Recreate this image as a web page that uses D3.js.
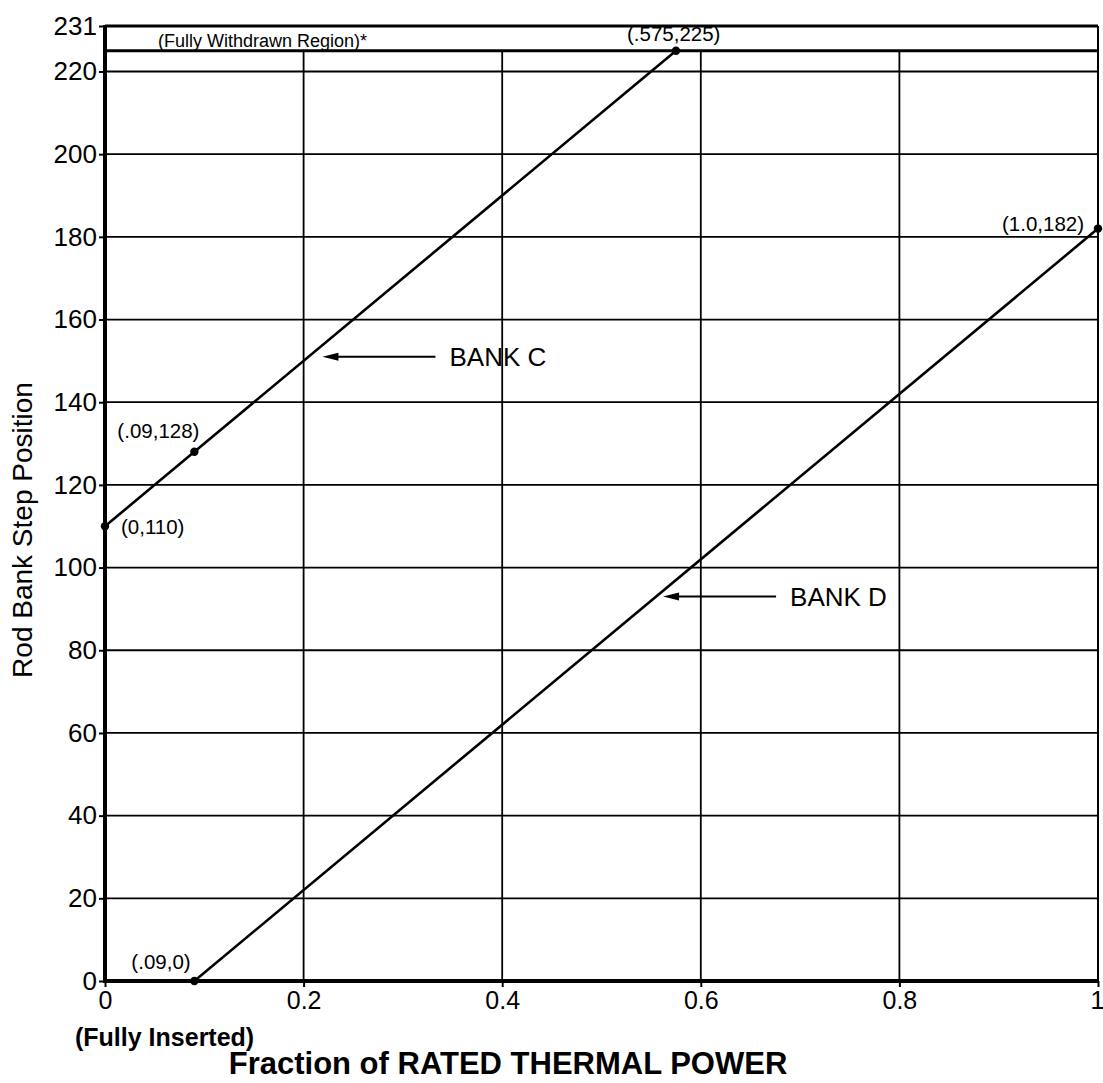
<!DOCTYPE html>
<html><head><meta charset="utf-8">
<script src="https://cdn.jsdelivr.net/npm/d3@7"></script>
<style>
html,body{margin:0;padding:0;background:#fff;}
svg{display:block;font-family:"Liberation Sans",Arial,sans-serif;}
</style></head>
<body>
<svg id="c" width="1103" height="1083"></svg>
<script>
const xTicks = [0, 0.2, 0.4, 0.6, 0.8, 1];
const xTickLabels = ["0", "0.2", "0.4", "0.6", "0.8", "1"];
const yTicks = [0, 20, 40, 60, 80, 100, 120, 140, 160, 180, 200, 220, 231];
const withdrawnLevel = 225;
const bankC = [[0, 110], [0.09, 128], [0.575, 225]];
const bankD = [[0.09, 0], [1.0, 182]];
const pointLabels = [
  {p: [0, 110], text: "(0,110)"},
  {p: [0.09, 128], text: "(.09,128)"},
  {p: [0.575, 225], text: "(.575,225)"},
  {p: [0.09, 0], text: "(.09,0)"},
  {p: [1.0, 182], text: "(1.0,182)"}
];
const bankLabels = [
  {name: "BANK C", value: 151, tipX: 0.219},
  {name: "BANK D", value: 93, tipX: 0.562}
];

const svg = d3.select("#c");
const x = d3.scaleLinear().domain([0, 1]).range([105, 1098]);
const y = d3.scaleLinear().domain([0, 231]).range([981, 26]);

// horizontal grid
svg.append("g").selectAll("line").data(yTicks.filter(v => v > 0 && v < 231)).join("line")
  .attr("x1", x(0)).attr("x2", x(1))
  .attr("y1", d => y(d)).attr("y2", d => y(d))
  .attr("stroke", "#000").attr("stroke-width", 1.8);
// vertical grid (from withdrawn line down)
svg.append("g").selectAll("line").data(xTicks.filter(v => v > 0 && v < 1)).join("line")
  .attr("x1", d => x(d)).attr("x2", d => x(d))
  .attr("y1", y(withdrawnLevel)).attr("y2", y(0))
  .attr("stroke", "#000").attr("stroke-width", 1.8);

// withdrawn line & top border
svg.append("line").attr("x1", x(0)).attr("x2", x(1)).attr("y1", y(withdrawnLevel)).attr("y2", y(withdrawnLevel))
  .attr("stroke", "#000").attr("stroke-width", 3);
svg.append("line").attr("x1", x(0)).attr("x2", x(1)).attr("y1", y(231)).attr("y2", y(231))
  .attr("stroke", "#000").attr("stroke-width", 3);
// right border
svg.append("line").attr("x1", x(1)).attr("x2", x(1)).attr("y1", y(231)).attr("y2", y(0))
  .attr("stroke", "#000").attr("stroke-width", 2);

// axes
const yAxis = d3.axisLeft(y).tickValues(yTicks).tickSize(6).tickPadding(2).tickFormat(d3.format("d"));
const ya = svg.append("g").attr("transform", `translate(${x(0)},0)`).call(yAxis);
ya.select(".domain").remove();
ya.selectAll(".tick line").attr("stroke-width", 2);
ya.selectAll(".tick text").attr("font-size", 26).attr("font-family", "Liberation Sans, Arial, sans-serif").attr("fill", "#000");

const xAxis = d3.axisBottom(x).tickValues(xTicks).tickSize(6).tickPadding(4).tickFormat((d, i) => xTickLabels[i]);
const xa = svg.append("g").attr("transform", `translate(0,${y(0)})`).call(xAxis);
xa.select(".domain").remove();
xa.selectAll(".tick line").attr("stroke-width", 2);
xa.selectAll(".tick text").attr("font-size", 25).attr("font-family", "Liberation Sans, Arial, sans-serif").attr("fill", "#000");
xa.selectAll(".tick text").filter(d => d === 1).attr("text-anchor", "end").attr("dx", 6);

svg.append("line").attr("x1", x(0)).attr("x2", x(0)).attr("y1", y(231) - 1).attr("y2", y(0) + 2)
  .attr("stroke", "#000").attr("stroke-width", 4);
svg.append("line").attr("x1", x(0) - 2).attr("x2", x(1) + 1).attr("y1", y(0)).attr("y2", y(0))
  .attr("stroke", "#000").attr("stroke-width", 4);

// bank lines
const line = d3.line().x(d => x(d[0])).y(d => y(d[1]));
[bankC, bankD].forEach(s => {
  svg.append("path").attr("d", line(s)).attr("fill", "none").attr("stroke", "#000").attr("stroke-width", 2.6);
});
const pts = pointLabels.map(d => d.p);
svg.append("g").selectAll("circle").data(pts).join("circle")
  .attr("cx", d => x(d[0])).attr("cy", d => y(d[1])).attr("r", 4.2).attr("fill", "#000");

// point labels
const lbl = svg.append("g").attr("font-size", 20.5).attr("fill", "#000");
const offs = {
  "(0,110)": {dx: 16, dy: 8},
  "(.09,128)": {dx: -77, dy: -14},
  "(.575,225)": {dx: -49, dy: -10},
  "(.09,0)": {dx: -63, dy: -12},
  "(1.0,182)": {dx: -96, dy: 2}
};
pointLabels.forEach(d => {
  const o = offs[d.text];
  lbl.append("text").attr("x", x(d.p[0]) + o.dx).attr("y", y(d.p[1]) + o.dy).text(d.text);
});

svg.append("text").attr("x", 158).attr("y", 47).attr("font-size", 18).text("(Fully Withdrawn Region)*");

// bank labels with arrows
bankLabels.forEach(b => {
  const yy = y(b.value);
  const tip = x(b.tipX);
  const tail = tip + 113;
  svg.append("line").attr("x1", tip + 12).attr("x2", tail).attr("y1", yy).attr("y2", yy)
    .attr("stroke", "#000").attr("stroke-width", 2);
  svg.append("path").attr("d", `M${tip},${yy} L${tip + 16},${yy - 4} L${tip + 16},${yy + 4} Z`).attr("fill", "#000");
  svg.append("text").attr("x", tail + 14).attr("y", yy + 9).attr("font-size", 26).text(b.name);
});

// axis titles
svg.append("text").attr("x", 75).attr("y", 1046).attr("font-size", 25).attr("font-weight", "bold").text("(Fully Inserted)");
svg.append("text").attr("x", 508).attr("y", 1074).attr("font-size", 31).attr("font-weight", "bold")
  .attr("text-anchor", "middle").text("Fraction of RATED THERMAL POWER");
svg.append("text").attr("transform", "translate(32,530) rotate(-90)").attr("font-size", 28)
  .attr("text-anchor", "middle").text("Rod Bank Step Position");
</script>
</body></html>
